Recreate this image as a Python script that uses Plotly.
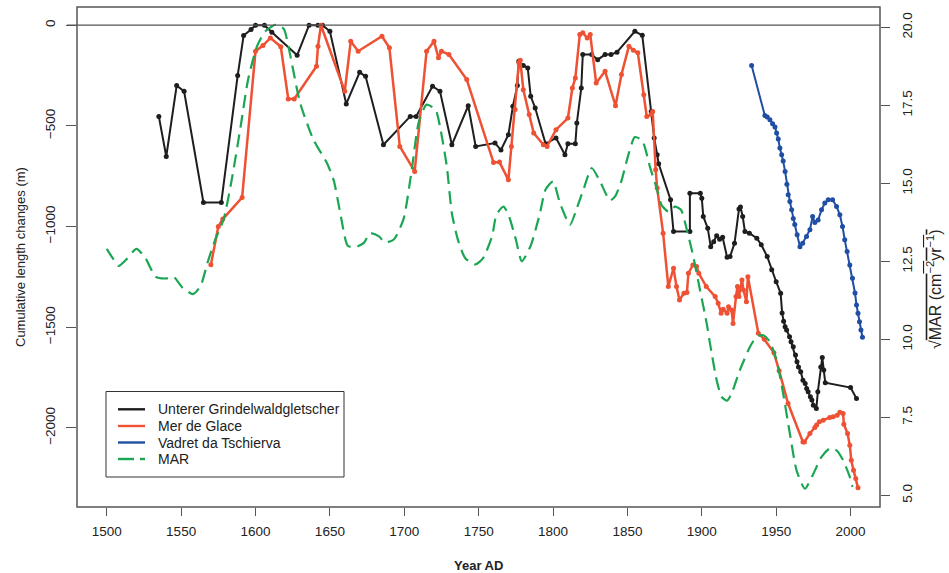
import plotly.graph_objects as go

# ---------------- data ----------------
ugg_year = [1535, 1540, 1547, 1552, 1565, 1577, 1588, 1592, 1597, 1600, 1606, 1611, 1628, 1636, 1642, 1645, 1650,
            1661, 1670, 1674, 1686, 1704, 1708, 1719, 1724, 1732, 1743, 1748, 1761, 1765, 1770, 1773, 1776, 1777,
            1780, 1783, 1785, 1788, 1795, 1802, 1808, 1810, 1815, 1816, 1819, 1820, 1826, 1830, 1835, 1839, 1843,
            1855, 1860, 1866, 1868, 1870, 1871, 1879, 1881, 1892, 1892, 1899, 1900, 1901, 1904, 1906, 1908, 1910,
            1912, 1914, 1917, 1919, 1922, 1925, 1926, 1927.5, 1929, 1932, 1937, 1940, 1944, 1947, 1950, 1953,
            1954, 1955, 1956, 1957, 1959, 1960, 1961.5, 1963, 1964, 1965, 1966.5, 1968, 1969.5, 1970.5, 1971.5,
            1973, 1974, 1975, 1977, 1978, 1980, 1981, 1982, 1983, 2000, 2004]
ugg_len = [-453, -652, -300, -328, -880, -880, -250, -51, -21, 0, 0, -35, -149, 0, 0, 0, -30,
           -391, -234, -254, -594, -453, -453, -303, -328, -594, -400, -602, -585, -620, -544, -403, -300, -179,
           -200, -212, -353, -411, -589, -560, -643, -589, -589, -486, -312, -146, -146, -171, -146, -146, -134,
           -30, -50, -428, -560, -643, -688, -867, -1025, -1025, -834, -834, -859, -950, -1008, -1100, -1075, -1046,
           -1063, -1053, -1152, -1149, -1083, -913, -903, -950, -1025, -1033, -1058, -1091, -1149, -1215, -1274, -1331,
           -1429, -1470, -1498, -1514, -1547, -1572, -1597, -1638, -1672, -1697, -1721, -1763, -1779, -1804, -1821,
           -1846, -1862, -1887, -1904, -1821, -1697, -1650, -1713, -1776, -1800, -1854]

mdg_year = [1570, 1575, 1578, 1591, 1600, 1605, 1610, 1617, 1622, 1626, 1641, 1642, 1644, 1660, 1664, 1669, 1685,
            1690, 1697, 1707, 1715, 1720, 1723, 1725, 1730, 1742, 1760, 1764, 1770, 1772, 1774.5, 1777, 1778, 1780,
            1784, 1787, 1793.5, 1796, 1802, 1810, 1813, 1815, 1818, 1820, 1823, 1825, 1829, 1835, 1842, 1846, 1851,
            1854, 1857, 1861, 1863, 1866, 1867, 1869, 1870, 1874, 1877.5, 1881, 1883, 1885, 1888, 1890, 1891, 1894,
            1896.5, 1898, 1903, 1909, 1911, 1913, 1914.4, 1917, 1918, 1920, 1921, 1923, 1924, 1925, 1927, 1928,
            1930, 1931, 1938, 1942, 1948.5, 1952, 1958, 1968, 1969, 1972.7, 1976, 1977.2, 1979, 1981.6, 1986,
            1988.3, 1991, 1992.8, 1995, 1995.5, 1998, 1999.5, 2000.5, 2002, 2003.5, 2005]
mdg_len = [-1190, -1000, -963, -856, -129, -101, -63, -107, -366, -366, -204, -104, 0, -328, -80, -129, -55,
           -112, -602, -726, -129, -80, -162, -129, -146, -270, -682, -680, -768, -602, -419, -187, -174, -320,
           -444, -535, -594, -602, -519, -461, -312, -262, -46, -38, -63, -46, -287, -229, -400, -245, -104,
           -124, -137, -345, -453, -444, -428, -718, -809, -1033, -1298, -1207, -1298, -1365, -1331, -1328, -1232, -1191,
           -1199, -1232, -1298, -1348, -1381, -1431, -1411, -1431, -1398, -1414, -1481, -1348, -1298, -1348, -1265, -1315,
           -1373, -1249, -1530, -1560, -1627, -1716, -1879, -2070, -2070, -2028, -1998, -1986, -1970, -1962, -1948,
           -1945, -1937, -1922, -1928, -1982, -2028, -2086, -2161, -2210, -2252, -2297]

vdt_year = [1933.5, 1942.4, 1944, 1945.8, 1947.6, 1949.2, 1950.3, 1951.4, 1952.5, 1953.7, 1954.7, 1956, 1957.2,
            1958.1, 1959.2, 1960.4, 1961.5, 1962.5, 1964.1, 1966, 1967.8, 1970.4, 1972.7, 1974.5, 1976, 1978.2,
            1980.5, 1982.7, 1985, 1987.9, 1990.6, 1992.8, 1994.6, 1996.1, 1997.7, 1999.5, 2001.3, 2003, 2004,
            2005, 2006, 2007, 2008]
vdt_len = [-200, -449, -456, -469, -489, -506, -535, -565, -610, -643, -675, -726, -790,
           -842, -876, -917, -960, -990, -1041, -1100, -1083, -1050, -1016, -950, -980, -967,
           -917, -883, -867, -867, -900, -942, -1000, -1066, -1124, -1191, -1257, -1330, -1390,
           -1431, -1473, -1514, -1550]

mar_year = [1500, 1504, 1508, 1513, 1520, 1526, 1533, 1540, 1545, 1551, 1558, 1563, 1568, 1573, 1578.6, 1584,
            1590, 1595, 1601, 1606.6, 1614, 1619, 1623, 1630, 1639, 1648, 1652.5, 1657, 1662, 1667, 1673, 1677,
            1683, 1687, 1693, 1699.5, 1705, 1709.6, 1715, 1721, 1724, 1728.6, 1732, 1736, 1741, 1748, 1753, 1759,
            1762, 1766.7, 1770, 1775, 1779, 1785, 1791, 1795, 1800, 1804.7, 1811.4, 1816, 1820.4, 1826, 1831.6,
            1838.3, 1842, 1846.2, 1850, 1855, 1860, 1865.3, 1870, 1873, 1877.6, 1882, 1886, 1890, 1894.3, 1898.8,
            1903.3, 1905.5, 1910, 1913.4, 1917, 1920, 1925.6, 1932.4, 1936.8, 1941.3, 1945.8, 1950.3, 1954.7,
            1959.2, 1963.7, 1969.3, 1975, 1980.5, 1986, 1990.6, 1995, 1999.5, 2001.3]
mar_val = [12.9, 12.6, 12.35, 12.55, 12.9, 12.6, 12.0, 11.95, 12.0, 11.65, 11.45, 11.7, 12.5, 13.2, 13.85, 15.11,
           16.82, 18.32, 19.39, 19.87, 20.09, 19.95, 19.18, 17.57, 16.39, 15.65, 15.11, 14.04, 13.0, 12.95, 13.1, 13.4,
           13.3, 13.1, 13.2, 13.85, 15.43, 16.93, 17.52, 17.36, 16.82, 15.54, 14.04, 13.2, 12.6, 12.4, 12.6, 13.3,
           14.0, 14.25, 14.0, 13.2, 12.5, 13.0, 14.0, 14.8, 15.06, 14.36, 13.67, 14.2, 14.79, 15.49, 15.06,
           14.45, 14.6, 15.11, 15.8, 16.48, 16.37, 15.5, 14.79, 14.3, 14.09, 14.25, 14.15, 13.5, 12.65, 11.58,
           10.51, 9.87, 8.69, 8.15, 8.03, 8.26, 9.01, 9.76, 10.08, 10.13, 9.92, 9.33, 8.26,
           6.98, 5.8, 5.21, 5.69, 6.23, 6.5, 6.44, 6.12, 5.59, 5.27]

x_ticks = [1500, 1550, 1600, 1650, 1700, 1750, 1800, 1850, 1900, 1950, 2000]
y_ticks = [0, -500, -1000, -1500, -2000]
y_ticklabels = ["0", "\u2212500", "\u22121000", "\u22121500", "\u22122000"]
y2_ticks = [5.0, 7.5, 10.0, 12.5, 15.0, 17.5, 20.0]
y2_ticklabels = ["5.0", "7.5", "10.0", "12.5", "15.0", "17.5", "20.0"]

names = ["Unterer Grindelwaldgletscher", "Mer de Glace", "Vadret da Tschierva", "MAR"]
c_black, c_red, c_blue, c_green = "#1e1e1e", "#ee5133", "#1f4ea3", "#1aa652"
colors = [c_black, c_red, c_blue, c_green]

FONT = "Liberation Sans, Arial, sans-serif"
AX = "#555555"

# plot-area geometry (pixels) used only to place the hand-drawn legend box
W, H = 949, 573
ML, MR, MT, MB = 77, 69, 7, 66
PW, PH = W - ML - MR, H - MT - MB


def px(x):
    return (x - ML) / PW


def py(y):
    return (H - MB - y) / PH


fig = go.Figure()

fig.add_trace(go.Scatter(x=mar_year, y=mar_val, yaxis="y2", mode="lines",
                         line=dict(color=c_green, width=2.2, dash="13px,7px", shape="spline", smoothing=0.6),
                         showlegend=False, hoverinfo="skip"))
fig.add_trace(go.Scatter(x=ugg_year, y=ugg_len, mode="lines+markers",
                         line=dict(color=c_black, width=2), marker=dict(size=5, color=c_black),
                         showlegend=False))
fig.add_trace(go.Scatter(x=mdg_year, y=mdg_len, mode="lines+markers",
                         line=dict(color=c_red, width=2.5), marker=dict(size=5, color=c_red),
                         showlegend=False))
fig.add_trace(go.Scatter(x=vdt_year, y=vdt_len, mode="lines+markers",
                         line=dict(color=c_blue, width=2), marker=dict(size=5, color=c_blue),
                         showlegend=False))

shapes = [
    dict(type="rect", xref="paper", yref="paper", x0=0, x1=1, y0=0, y1=1,
         line=dict(color=AX, width=1.5), layer="above"),
    dict(type="line", xref="paper", yref="y", x0=-0.0125, x1=1, y0=0, y1=0,
         line=dict(color=AX, width=1.2), layer="above"),
    # legend box
    dict(type="rect", xref="paper", yref="paper", x0=px(106), x1=px(344), y0=py(391.5), y1=py(477),
         line=dict(color="#333333", width=1), fillcolor="white", layer="above"),
]
annotations = [
    dict(text="Cumulative length changes (m)", xref="paper", yref="paper", x=px(20), y=0.5,
         textangle=-90, showarrow=False, font=dict(size=13), xanchor="center", yanchor="middle"),
    dict(text="<b>Year AD</b>", xref="paper", yref="paper", x=0.5, y=py(565), showarrow=False,
         font=dict(size=13), xanchor="center", yanchor="middle"),
    dict(text="\u221a<span style='text-decoration:overline'>MAR (cm<sup>\u22122</sup>yr<sup>\u22121</sup>)</span>",
         xref="paper", yref="paper", x=px(934), y=py(289), textangle=-90, showarrow=False,
         font=dict(size=16), xanchor="center", yanchor="middle"),
]

leg_y = [409.3, 426, 442.5, 459]
for nm, col, yy in zip(names, colors, leg_y):
    if nm == "MAR":
        shapes.append(dict(type="line", xref="paper", yref="paper", x0=px(118), x1=px(134), y0=py(yy), y1=py(yy),
                           line=dict(color=col, width=2.4), layer="above"))
        shapes.append(dict(type="line", xref="paper", yref="paper", x0=px(140), x1=px(145), y0=py(yy), y1=py(yy),
                           line=dict(color=col, width=2.4), layer="above"))
    else:
        shapes.append(dict(type="line", xref="paper", yref="paper", x0=px(118), x1=px(145), y0=py(yy), y1=py(yy),
                           line=dict(color=col, width=2.4), layer="above"))
    annotations.append(dict(text=nm, xref="paper", yref="paper", x=px(156), y=py(yy), showarrow=False,
                            xanchor="left", yanchor="middle", font=dict(size=14, color="#222222")))

fig.update_layout(
    width=W, height=H,
    margin=dict(l=ML, r=MR, t=MT, b=MB),
    paper_bgcolor="white", plot_bgcolor="white",
    font=dict(family=FONT, size=13.5, color="#222222"),
    showlegend=False,
    xaxis=dict(range=[1480, 2019.8], tickvals=x_ticks, ticks="outside", ticklen=8, tickcolor=AX, tickwidth=1.2,
               showgrid=False, zeroline=False, showline=False, ticklabelstandoff=4),
    yaxis=dict(range=[-2393, 90.5], tickvals=y_ticks, ticktext=y_ticklabels, ticks="outside", ticklen=10,
               tickcolor=AX, tickwidth=1.2, tickangle=-90, showgrid=False, zeroline=False, showline=False,
               ticklabelstandoff=6),
    yaxis2=dict(range=[4.625, 20.65], overlaying="y", side="right", tickvals=y2_ticks, ticktext=y2_ticklabels,
                ticks="outside", ticklen=9, tickcolor=AX, tickwidth=1.2, tickangle=-90, showgrid=False,
                zeroline=False, showline=False, ticklabelstandoff=6),
    shapes=shapes,
    annotations=annotations,
)

fig.write_html("out.html", config={"displayModeBar": False},
               post_script="document.body.style.margin='0';document.body.style.padding='0';")
